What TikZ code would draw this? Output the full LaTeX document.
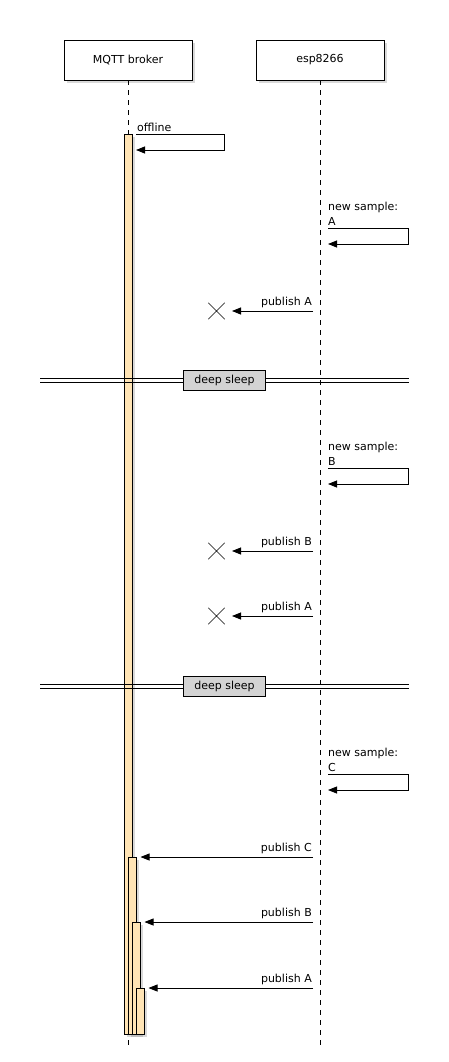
\documentclass[tikz,border=0pt]{standalone}
\usepackage{fontspec}
\setmainfont{DejaVu Sans}
\usetikzlibrary{arrows.meta,shadows,shapes.misc}
\definecolor{actc}{RGB}{255,228,181}
\definecolor{sleepc}{RGB}{211,211,211}
\begin{document}
\begin{tikzpicture}[x=1pt,y=-1pt,
  every node/.style={font=\fontsize{11pt}{13pt}\selectfont},
  shad/.style={drop shadow={shadow xshift=3pt,shadow yshift=-3pt,opacity=0.3}},
  head/.style={draw,fill=white,line width=0.8pt,minimum width=128pt,minimum height=40pt,inner sep=0pt,shad},
  life/.style={draw,line width=0.8pt,dash pattern=on 5pt off 5pt},
  actbar/.style={draw,fill=actc,line width=0.8pt,minimum width=8pt,inner sep=0pt,shad},
  msg/.style={draw,line width=0.8pt,-{Triangle[length=9pt,width=7pt]}},
  lblr/.style={inner sep=0pt,anchor=base east},
  lbll/.style={inner sep=0pt,anchor=base west},
  lost/.style={draw,cross out,line width=0.5pt,minimum size=16pt,inner sep=0pt},
  sleepbox/.style={draw,fill=sleepc,line width=0.8pt,minimum width=82pt,minimum height=20pt,inner sep=0pt},
  sep/.style={draw,line width=0.8pt}
]
\useasboundingbox (0,0) rectangle (448,1062);
% headers
\node[head] (broker) at (128,60) {MQTT broker};
\node[head] (esp) at (320,60) {esp8266};
\coordinate (bend) at (128,1047);
\coordinate (eend) at (320,1047);
\draw[life] (broker.south) -- (bend);
\draw[life] (esp.south) -- (eend);
% activation bars
\node[actbar,minimum height=900pt] (act1) at (128,584) {};
\node[actbar,minimum height=177pt] (act2) at (132,945.5) {};
\node[actbar,minimum height=112pt] (act3) at (136,978) {};
\node[actbar,minimum height=46pt] (act4) at (140,1011) {};
% offline
\coordinate (o1) at (136,134);
\coordinate (o2) at (224,150);
\coordinate (o3) at (136,150);
\draw[msg] (o1) -| (o2) -- (o3);
\node[lbll] (offl) at (137,131.5) {offline};
% new sample A
\coordinate (na1) at (328,228);
\coordinate (na2) at (408,244);
\coordinate (na3) at (328,244);
\draw[msg] (na1) -| (na2) -- (na3);
\node[lbll] (nal1) at (328,210.7) {new sample:};
\node[lbll] (nal2) at (328,225) {A};
% publish A (lost)
\coordinate (pa1s) at (313,311);
\coordinate (pa1e) at (232,311);
\node[lost] (x1) at (216.5,311) {};
\draw[msg] (pa1s) -- (pa1e);
\node[lblr] (pa1l) at (312,305.5) {publish A};
% deep sleep 1
\coordinate (s1a) at (40,378.3);
\coordinate (s1b) at (409,378.3);
\coordinate (s1c) at (40,382.3);
\coordinate (s1d) at (409,382.3);
\draw[sep] (s1a) -- (s1b);
\draw[sep] (s1c) -- (s1d);
\node[sleepbox] (sleep1) at (224.5,380.3) {deep sleep};
% new sample B
\coordinate (nb1) at (328,468);
\coordinate (nb2) at (408,484);
\coordinate (nb3) at (328,484);
\draw[msg] (nb1) -| (nb2) -- (nb3);
\node[lbll] (nbl1) at (328,450.7) {new sample:};
\node[lbll] (nbl2) at (328,465) {B};
% publish B (lost)
\coordinate (pb1s) at (313,551);
\coordinate (pb1e) at (232,551);
\node[lost] (x2) at (216.5,551) {};
\draw[msg] (pb1s) -- (pb1e);
\node[lblr] (pb1l) at (312,545.5) {publish B};
% publish A (lost)
\coordinate (pa2s) at (313,616);
\coordinate (pa2e) at (232,616);
\node[lost] (x3) at (216.5,616) {};
\draw[msg] (pa2s) -- (pa2e);
\node[lblr] (pa2l) at (312,610.5) {publish A};
% deep sleep 2
\coordinate (s2a) at (40,684.5);
\coordinate (s2b) at (409,684.5);
\coordinate (s2c) at (40,688.5);
\coordinate (s2d) at (409,688.5);
\draw[sep] (s2a) -- (s2b);
\draw[sep] (s2c) -- (s2d);
\node[sleepbox] (sleep2) at (224.5,686.5) {deep sleep};
% new sample C
\coordinate (nc1) at (328,774);
\coordinate (nc2) at (408,790);
\coordinate (nc3) at (328,790);
\draw[msg] (nc1) -| (nc2) -- (nc3);
\node[lbll] (ncl1) at (328,756.7) {new sample:};
\node[lbll] (ncl2) at (328,771.7) {C};
% delivered publishes
\coordinate (pcs) at (313,857);
\coordinate (pce) at (140.5,857);
\draw[msg] (pcs) -- (pce);
\node[lblr] (pcl) at (312,851.5) {publish C};
\coordinate (pbs) at (313,922);
\coordinate (pbe) at (144.5,922);
\draw[msg] (pbs) -- (pbe);
\node[lblr] (pbl) at (312,916.5) {publish B};
\coordinate (pas) at (313,988);
\coordinate (pae) at (148.5,988);
\draw[msg] (pas) -- (pae);
\node[lblr] (pal) at (312,982.5) {publish A};
\end{tikzpicture}
\end{document}
